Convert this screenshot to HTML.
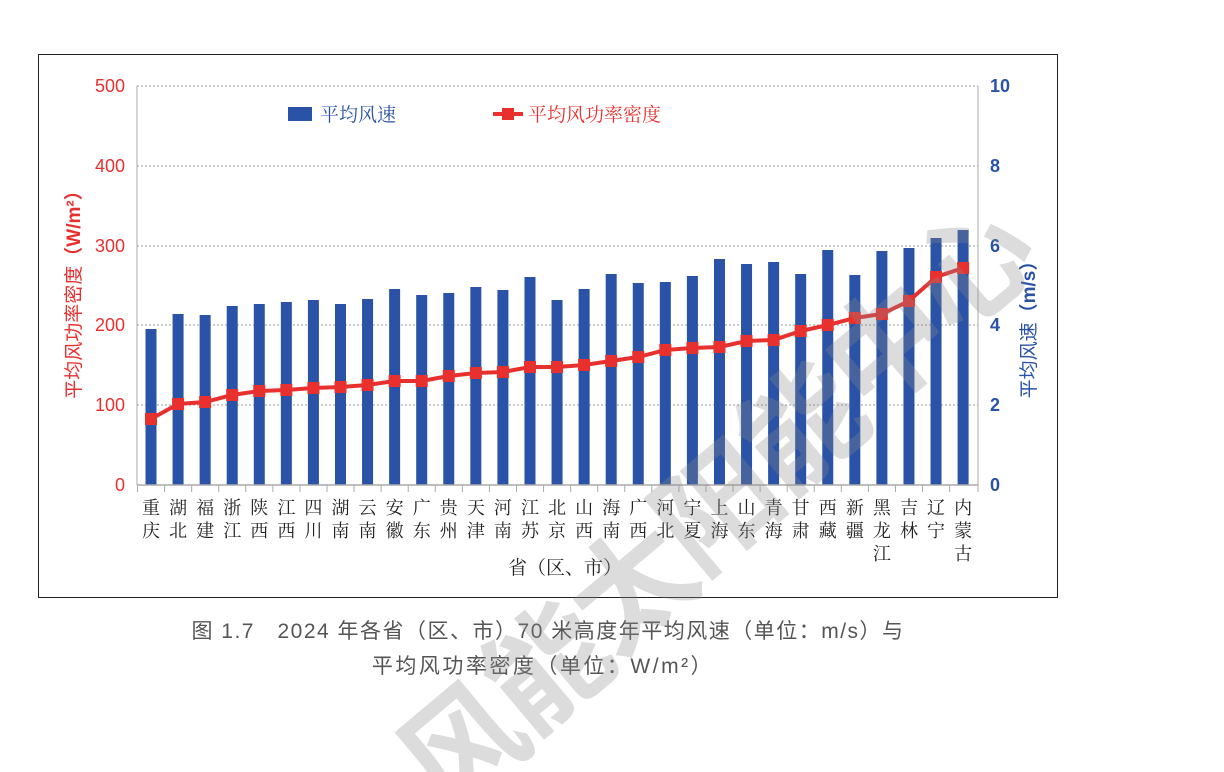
<!DOCTYPE html>
<html><head><meta charset="utf-8"><style>
html,body{margin:0;padding:0;background:#fff;width:1224px;height:772px;overflow:hidden}
svg{display:block;overflow:hidden;font-family:"Liberation Sans","Noto Sans CJK SC",sans-serif}
</style></head><body>
<svg width="1224" height="772" viewBox="0 0 1224 772">
<rect x="38.5" y="54.5" width="1019" height="543" fill="#fff" stroke="#222" stroke-width="1"/>
<g stroke="#999" stroke-dasharray="2,2" stroke-width="1">
<line x1="137" y1="86" x2="978" y2="86"/><line x1="137" y1="166" x2="978" y2="166"/>
<line x1="137" y1="246" x2="978" y2="246"/><line x1="137" y1="325" x2="978" y2="325"/>
<line x1="137" y1="405" x2="978" y2="405"/>
</g>
<g id="bars" fill="#2a52a6"></g>
<line x1="137" y1="86" x2="137" y2="485" stroke="#aaa"/>
<line x1="978" y1="86" x2="978" y2="485" stroke="#aaa"/>
<line x1="137" y1="485" x2="978" y2="485" stroke="#aaa" stroke-width="1.5"/>
<g id="ticks" stroke="#aaa"></g>
<polyline id="line" fill="none" stroke="#e8302f" stroke-width="4"/>
<g id="marks" fill="#e8302f"></g>
<g fill="#e8302f" font-size="18" text-anchor="end">
<text x="125" y="92">500</text><text x="125" y="172">400</text><text x="125" y="252">300</text>
<text x="125" y="331">200</text><text x="125" y="411">100</text><text x="125" y="491">0</text>
</g>
<g fill="#2a52a6" font-size="18" font-weight="bold">
<text x="990" y="92">10</text><text x="990" y="172">8</text><text x="990" y="252">6</text>
<text x="990" y="331">4</text><text x="990" y="411">2</text><text x="990" y="491">0</text>
</g>
<text transform="translate(80,290) rotate(-90)" fill="#e8302f" font-size="19" text-anchor="middle">平均风功率密度<tspan font-weight="bold">（W/m²）</tspan></text>
<text transform="translate(1035,325) rotate(-90)" fill="#2a52a6" font-size="19" text-anchor="middle">平均风速<tspan font-weight="bold">（m/s）</tspan></text>
<rect x="288" y="107" width="24" height="14" fill="#2a52a6"/>
<text x="320" y="121" font-size="19" fill="#2a52a6" font-family="Noto Serif CJK SC,serif">平均风速</text>
<line x1="493" y1="114" x2="523" y2="114" stroke="#e8302f" stroke-width="4"/>
<rect x="502" y="108" width="12" height="12" fill="#e8302f"/>
<text x="528" y="121" font-size="19" fill="#e8302f" font-family="Noto Serif CJK SC,serif">平均风功率密度</text>
<g id="labels" font-size="18" fill="#222" text-anchor="middle" font-family="Noto Serif CJK SC,serif"></g>
<text x="565" y="574" font-size="19" fill="#222" text-anchor="middle" font-family="Noto Serif CJK SC,serif">省（区、市）</text>
<text x="548" y="638" font-size="21" letter-spacing="1.5" fill="#555" text-anchor="middle">图 1.7　2024 年各省（区、市）70 米高度年平均风速（单位：m/s）与</text>
<text x="543" y="673" font-size="21" letter-spacing="2.5" fill="#555" text-anchor="middle">平均风功率密度（单位：W/m²）</text>
<g fill="rgba(140,140,140,0.3)" font-size="120" font-weight="bold" text-anchor="middle" font-family="Noto Sans CJK SC,sans-serif">
<text transform="translate(490,780) rotate(-40)">风</text>
<text transform="translate(575,700) rotate(-40)">能</text>
<text transform="translate(660,620) rotate(-40)">太</text>
<text transform="translate(745,540) rotate(-40)">阳</text>
<text transform="translate(830,460) rotate(-40)">能</text>
<text transform="translate(915,380) rotate(-40)">中</text>
<text transform="translate(1000,300) rotate(-40)">心</text>
</g>
</svg>
<script>
var names=["重庆","湖北","福建","浙江","陕西","江西","四川","湖南","云南","安徽","广东","贵州","天津","河南","江苏","北京","山西","海南","广西","河北","宁夏","上海","山东","青海","甘肃","西藏","新疆","黑龙江","吉林","辽宁","内蒙古"];
var bt=[329,314,315,306,304,302,300,304,299,289,295,293,287,290,277,300,289,274,283,282,276,259,264,262,274,250,275,251,248,238,230];
var ly=[419,404,402,395,391,390,388,387,385,381,381,376,373,372,367,367,365,361,357,350,348,347,341,340,331,325,318,314,301,277,268];
var NS="http://www.w3.org/2000/svg";
function el(t,a,p){var e=document.createElementNS(NS,t);for(var k in a)e.setAttribute(k,a[k]);document.getElementById(p).appendChild(e);return e;}
var pts=[];
for(var i=0;i<31;i++){var x=151+i*27.07;
el("rect",{x:x-5.5,y:bt[i],width:11,height:485-bt[i]},"bars");
el("line",{x1:x-13.5,y1:485,x2:x-13.5,y2:492},"ticks");
pts.push(x+","+ly[i]);
el("rect",{x:x-6,y:ly[i]-6,width:12,height:12},"marks");
for(var j=0;j<names[i].length;j++){var t=el("text",{x:x,y:514+j*23},"labels");t.textContent=names[i][j];}
}
el("line",{x1:978,y1:485,x2:978,y2:492},"ticks");
document.getElementById("line").setAttribute("points",pts.join(" "));
</script>
</body></html>
